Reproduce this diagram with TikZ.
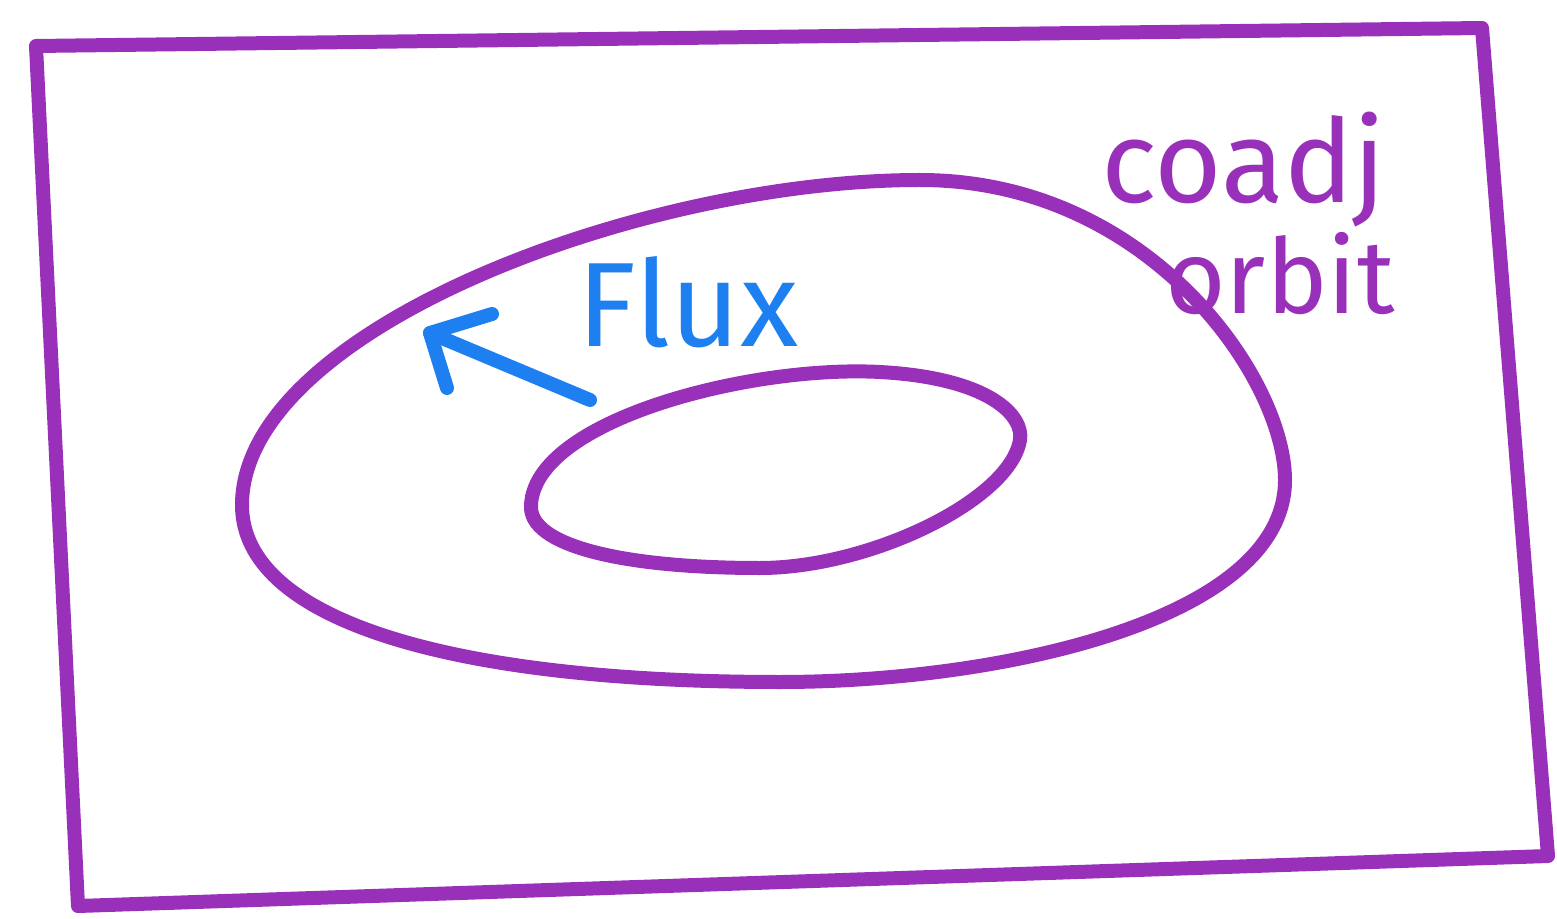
\documentclass[tikz,border=0pt]{standalone}
\usepackage{fontspec}
\setmainfont{Fira Sans}
\usepackage{tikz}
\usetikzlibrary{arrows.meta,calc,positioning}
\definecolor{crayon}{RGB}{153,48,185}
\definecolor{pen}{RGB}{30,128,240}

\begin{document}
\begin{tikzpicture}[x=0.5pt,y=-0.5pt,line cap=round,line join=round]
  \useasboundingbox (0,0) rectangle (1557,919);
  % outer frame
  \coordinate (TL) at (36,46);
  \coordinate (TR) at (1482,28);
  \coordinate (BR) at (1548,856);
  \coordinate (BL) at (78,906);
  \draw[crayon,line width=7pt] (TL) -- (TR) -- (BR) -- (BL) -- cycle;
  % outer orbit
  \draw[crayon,line width=7pt] (242,505)
    .. controls (242,330) and (640,180) .. (920,180)
    .. controls (1150,180) and (1285,380) .. (1285,480)
    .. controls (1285,620) and (1000,682) .. (780,682)
    .. controls (450,682) and (242,620) .. cycle;
  % inner orbit
  \draw[crayon,line width=7pt] (531,505)
    .. controls (535,420) and (750,365) .. (880,372)
    .. controls (990,378) and (1024,416) .. (1020,440)
    .. controls (1010,500) and (870,568) .. (760,568)
    .. controls (620,568) and (528,545) .. cycle;
  % flux arrow
  \coordinate (F0) at (590,400);
  \coordinate (F1) at (430,333);
  \draw[pen,line width=7pt] (F0) -- (F1);
  \draw[pen,line width=7pt] (447,388) -- (F1) -- (492,314);
  \node[pen,font=\fontsize{60}{64}\selectfont,inner sep=0pt] (flux) at (688,302) {Flux};
  \node[crayon,font=\fontsize{58}{62}\selectfont,inner sep=0pt] (coadj) at (1244,170) {coadj};
  \node[crayon,font=\fontsize{52}{56}\selectfont,inner sep=0pt] (orbit) at (1280,274) {orbit};
\end{tikzpicture}
\end{document}
